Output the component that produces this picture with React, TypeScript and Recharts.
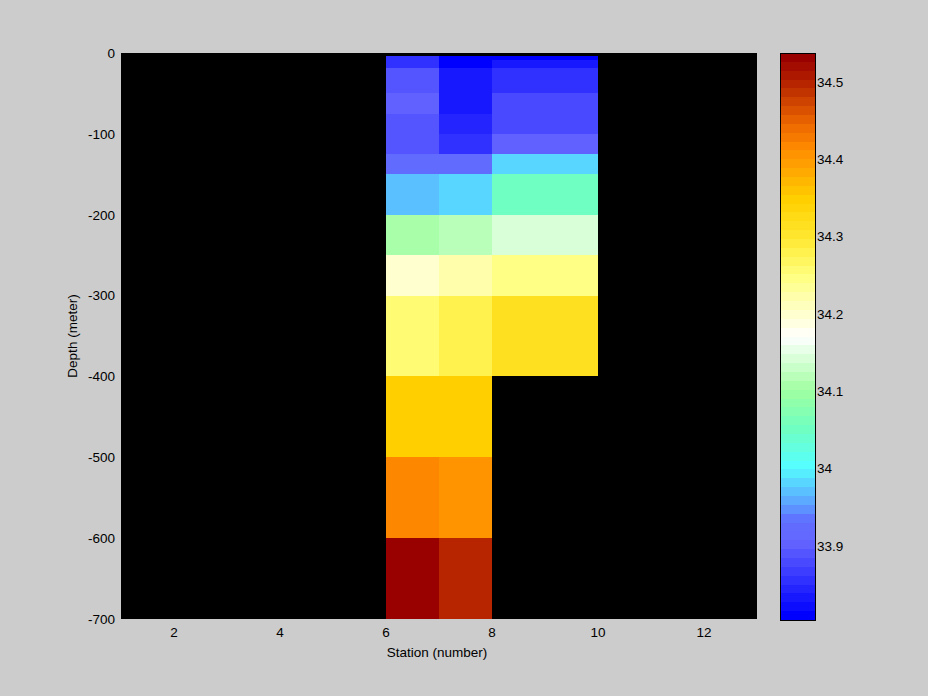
import React from 'react';
import { ComposedChart, XAxis, YAxis, ReferenceArea } from 'recharts';

// ---- Data ----
const stationTicks = [2, 4, 6, 8, 10, 12];
const depthTicks = [-700, -600, -500, -400, -300, -200, -100, 0];
const colorbarTicks = [33.9, 34.0, 34.1, 34.2, 34.3, 34.4, 34.5];

// column edges (station number) for each profile
const station6Edges = [6, 7];
const station7Edges = [7, 8];
const station8Edges = [8, 10];

// depth edges (m) per profile
const station6Depths = [-4, -18, -50, -75, -100, -125, -150, -200, -250, -300, -400, -500, -600, -700];
const station7Depths = [-4, -18, -50, -75, -100, -125, -150, -200, -250, -300, -400, -500, -600, -700];
const station8Depths = [-4, -9, -18, -50, -100, -125, -150, -200, -250, -300, -400];

// salinity per depth layer
const station6Salinity = [33.86, 33.886, 33.898, 33.886, 33.886, 33.925, 33.967, 34.11, 34.195, 34.255, 34.347, 34.417, 34.535];
const station7Salinity = [33.81, 33.835, 33.835, 33.842, 33.86, 33.925, 33.979, 34.124, 34.22, 34.274, 34.347, 34.4, 34.492];
const station8Salinity = [33.81, 33.835, 33.86, 33.873, 33.9, 33.985, 34.05, 34.147, 34.24, 34.317];

// colour scale
const vMin = 33.804;
const vMax = 34.5375;
const nLevels = 64;
const cmapValues = [33.804, 33.9, 33.93, 33.95, 34.0, 34.05, 34.1, 34.17, 34.25, 34.3, 34.35, 34.4, 34.42, 34.45, 34.5, 34.5375];
const cmapColors = ['#0000ff', '#6464ff', '#6070ff', '#5ca0ff', '#55ffff', '#70ffc0', '#a0ffa0', '#ffffff', '#ffff80', '#ffe830', '#ffd000', '#ff9c00', '#ff8800', '#ec6800', '#b82800', '#990000'];

// ---- helpers ----
function hexToRgb(h: string) {
  return [parseInt(h.slice(1, 3), 16), parseInt(h.slice(3, 5), 16), parseInt(h.slice(5, 7), 16)];
}
function interpColor(v: number) {
  if (v <= cmapValues[0]) return cmapColors[0];
  for (let i = 1; i < cmapValues.length; i++) {
    if (v <= cmapValues[i]) {
      const t = (v - cmapValues[i - 1]) / (cmapValues[i] - cmapValues[i - 1]);
      const a = hexToRgb(cmapColors[i - 1]);
      const b = hexToRgb(cmapColors[i]);
      const c = a.map((x, k) => Math.round(x + (b[k] - x) * t));
      return `rgb(${c[0]},${c[1]},${c[2]})`;
    }
  }
  return cmapColors[cmapColors.length - 1];
}
function levelColor(idx: number) {
  return interpColor(vMin + (idx / (nLevels - 1)) * (vMax - vMin));
}
function salinityColor(v: number) {
  let idx = Math.floor(((v - vMin) / (vMax - vMin)) * nLevels);
  idx = Math.max(0, Math.min(nLevels - 1, idx));
  return levelColor(idx);
}

type Cell = { x1: number; x2: number; y1: number; y2: number; v: number };
function buildCells(edges: number[], depths: number[], sal: number[]): Cell[] {
  return sal.map((v, i) => ({ x1: edges[0], x2: edges[1], y1: depths[i + 1], y2: depths[i], v }));
}
const cells: Cell[] = [
  ...buildCells(station6Edges, station6Depths, station6Salinity),
  ...buildCells(station7Edges, station7Depths, station7Salinity),
  ...buildCells(station8Edges, station8Depths, station8Salinity),
];

const levels = Array.from({ length: nLevels }, (_, i) => i);
const step = (vMax - vMin) / nLevels;

const FONT = '"Liberation Sans", Arial, sans-serif';
const FS = 13.5;

const YLabel = (props: any) => {
  const vb = props.viewBox || {};
  const cx = (vb.x || 0) + 72;
  const cy = (vb.y || 0) + (vb.height || 0) / 2;
  return (
    <text x={cx} y={cy} transform={`rotate(-90 ${cx} ${cy})`} textAnchor="middle" dominantBaseline="central"
      fill="#000" fontSize={FS} fontFamily={FONT}>Depth (meter)</text>
  );
};
const XLabel = (props: any) => {
  const vb = props.viewBox || {};
  const cx = (vb.x || 0) + (vb.width || 0) / 2 - 2;
  const cy = (vb.y || 0) + 38;
  return (
    <text x={cx} y={cy} textAnchor="middle" fill="#000" fontSize={FS} fontFamily={FONT}>Station (number)</text>
  );
};

export default function App() {
  return (
    <div style={{ position: 'absolute', left: 0, top: 0, width: 928, height: 696, background: '#cccccc', overflow: 'hidden' }}>
      <style>{`.recharts-reference-area-rect{shape-rendering:crispEdges;} .recharts-cartesian-axis-tick-line, .recharts-cartesian-axis-line{shape-rendering:crispEdges;}`}</style>
      <div style={{ position: 'absolute', left: 0, top: 0 }}>
        <ComposedChart width={928} height={696} margin={{ top: 53, right: 171, bottom: 47, left: 0 }}>
          <XAxis type="number" dataKey="x" domain={[1, 13]} ticks={stationTicks} height={30}
            tickLine={false} axisLine={false} tickSize={6} tickMargin={2}
            tick={{ fill: '#000', fontSize: FS, fontFamily: FONT }} allowDataOverflow
            label={{ content: <XLabel /> }} />
          <YAxis type="number" dataKey="y" domain={[-700, 0]} ticks={depthTicks} width={121}
            tickLine={false} axisLine={false} tickSize={6} tickMargin={0}
            tick={{ fill: '#000', fontSize: FS, fontFamily: FONT }} allowDataOverflow
            label={{ content: <YLabel /> }} />
          <ReferenceArea x1={1} x2={13} y1={-700} y2={0} fill="#000" fillOpacity={1} stroke="none" ifOverflow="visible" />
          {cells.map((c, i) => (
            <ReferenceArea key={i} x1={c.x1} x2={c.x2} y1={c.y1} y2={c.y2}
              fill={salinityColor(c.v)} fillOpacity={1} stroke="none" ifOverflow="visible" />
          ))}
        </ComposedChart>
      </div>
      <div style={{ position: 'absolute', left: 0, top: 0 }}>
        <ComposedChart width={928} height={696} margin={{ top: 53, right: 112, bottom: 75, left: 780 }}>
          <XAxis type="number" dataKey="cx" domain={[0, 1]} height={1} tick={false} tickLine={false} axisLine={false} allowDataOverflow />
          <YAxis yAxisId="l" type="number" dataKey="cy" orientation="left" mirror domain={[vMin, vMax]} ticks={colorbarTicks}
            width={1} tick={false} tickSize={5} axisLine={{ stroke: '#000' }} tickLine={{ stroke: '#000' }} allowDataOverflow />
          <YAxis yAxisId="r" type="number" dataKey="cy" orientation="right" mirror domain={[vMin, vMax]} ticks={colorbarTicks}
            width={1} tick={false} tickSize={5} axisLine={{ stroke: '#000' }} tickLine={{ stroke: '#000' }} allowDataOverflow />
          <YAxis yAxisId="lab" type="number" dataKey="cy" orientation="right" domain={[vMin, vMax]} ticks={colorbarTicks}
            width={1} tickLine={false} axisLine={false} tickSize={2} tickMargin={0}
            tick={{ fill: '#000', fontSize: FS, fontFamily: FONT, textAnchor: 'start' }} allowDataOverflow />
          {levels.map((i) => (
            <ReferenceArea key={i} yAxisId="l" x1={0} x2={1}
              y1={vMin + i * step} y2={vMin + (i + 1) * step}
              fill={levelColor(i)} fillOpacity={1} stroke="none" ifOverflow="visible" />
          ))}
          <ReferenceArea yAxisId="l" x1={0} x2={1} y1={vMin} y2={vMax}
            fill="none" stroke="#000" strokeWidth={1} ifOverflow="visible" />
        </ComposedChart>
      </div>
    </div>
  );
}
